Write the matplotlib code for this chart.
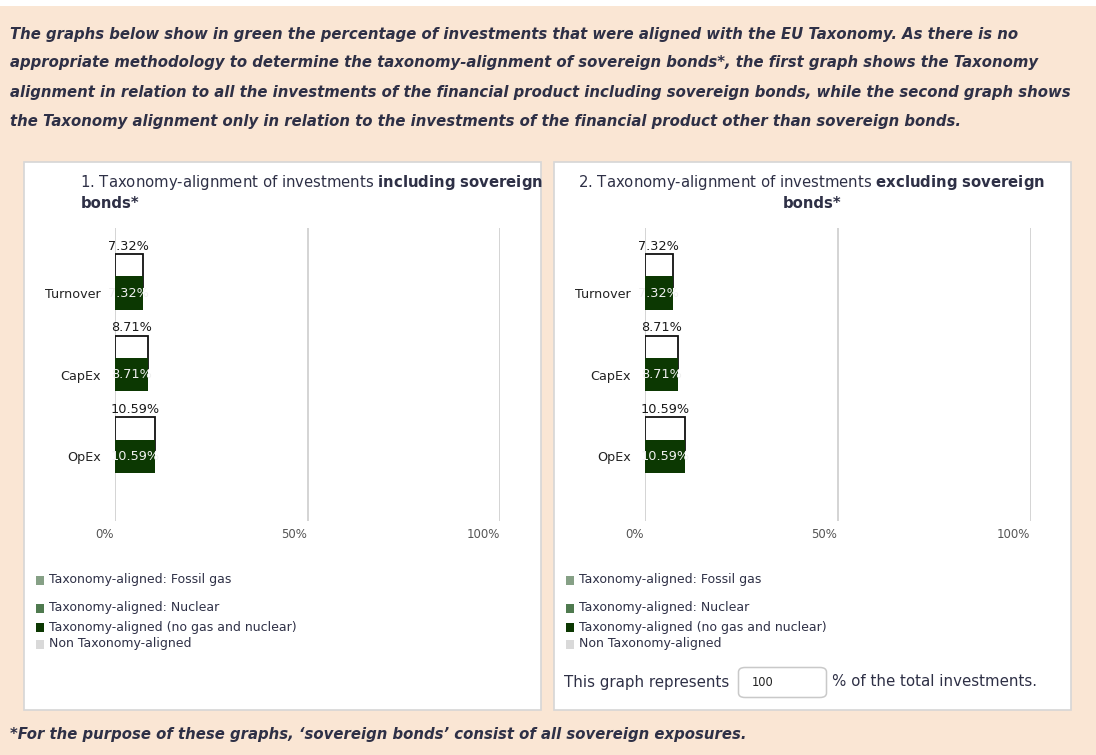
import numpy as np
import matplotlib
matplotlib.use("Agg")
import matplotlib.pyplot as plt
from matplotlib.patches import Rectangle, FancyBboxPatch
import matplotlib.transforms as mtransforms

# data
categories = ["Turnover", "CapEx", "OpEx"]
aligned_incl = [7.32, 8.71, 10.59]     # taxonomy-aligned (no gas and nuclear), incl. sovereign bonds
total_incl = [7.32, 8.71, 10.59]       # outline bar, incl. sovereign bonds
aligned_excl = [7.32, 8.71, 10.59]
total_excl = [7.32, 8.71, 10.59]
xticks = [0, 50, 100]
xtick_labels = ["0%", "50%", "100%"]
legend_labels = ["Taxonomy-aligned: Fossil gas", "Taxonomy-aligned: Nuclear",
                 "Taxonomy-aligned (no gas and nuclear)", "Non Taxonomy-aligned"]
legend_colors = ["#86a086", "#4f7a4f", "#0c3802", "#d9d9d9"]
share_of_total = "100"

header_lines = [
    "The graphs below show in green the percentage of investments that were aligned with the EU Taxonomy. As there is no",
    "appropriate methodology to determine the taxonomy-alignment of sovereign bonds*, the first graph shows the Taxonomy",
    "alignment in relation to all the investments of the financial product including sovereign bonds, while the second graph shows",
    "the Taxonomy alignment only in relation to the investments of the financial product other than sovereign bonds.",
]
footer = "*For the purpose of these graphs, \u2018sovereign bonds\u2019 consist of all sovereign exposures."

W, H = 1096, 755
BG = "#fae6d4"
TXT = "#2e3046"
GREEN = "#0c3802"

fig = plt.figure(figsize=(W / 100, H / 100), dpi=100)
fig.patch.set_facecolor(BG)


def fx(x):
    return x / W


def fy(y):
    return 1 - y / H


# white strip at the very top
fig.patches.append(Rectangle((0, fy(6)), 1, 6 / H, transform=fig.transFigure,
                             facecolor="white", edgecolor="none", zorder=-2))

for i, line in enumerate(header_lines):
    fig.text(fx(10), fy([34, 63, 92.5, 121.5][i]), line, fontsize=10.7, fontweight="bold",
             fontstyle="italic", color=TXT, va="center", ha="left")

fig.text(fx(10), fy(734), footer, fontsize=10.7, fontweight="bold", fontstyle="italic",
         color=TXT, va="center", ha="left")


def panel(x0, title1, title2, title_center, aligned, total, extra):
    # white panel box
    fig.patches.append(Rectangle((fx(x0), fy(709.5)), 517 / W, (709.5 - 161.5) / H,
                                 transform=fig.transFigure, facecolor="white",
                                 edgecolor="#d6d6d6", lw=1.2, zorder=-1))
    if title_center:
        fig.text(fx(x0 + 258.5), fy(182), title1, fontsize=10.7, color=TXT, ha="center", va="center")
        fig.text(fx(x0 + 258.5), fy(203), title2, fontsize=10.7, color=TXT, ha="center", va="center",
                 fontweight="bold")
    else:
        fig.text(fx(x0 + 57), fy(182), title1, fontsize=10.7, color=TXT, ha="left", va="center")
        fig.text(fx(x0 + 57), fy(203), title2, fontsize=10.7, color=TXT, ha="left", va="center",
                 fontweight="bold")

    ax = fig.add_axes([fx(x0 + 91), fy(521), 386 / W, 292.7 / H])
    ax.set_facecolor("none")
    y = np.arange(len(categories))
    h = 0.409
    off = 0.275
    ax.barh(y - off, total, height=h, color="white", edgecolor="#111111", lw=1.3, zorder=2)
    bars = ax.barh(y, aligned, height=h, color=GREEN, edgecolor="none", zorder=3)
    for yi, v, tv, b in zip(y, aligned, total, bars):
        ax.annotate(f"{tv:.2f}%", xy=(tv / 2, yi - off - h / 2), xytext=(0, 3),
                    textcoords="offset points", ha="center", va="baseline",
                    fontsize=9.3, color="#1a1a1a", zorder=4)
        t = ax.text(v / 2, yi, f"{v:.2f}%", ha="center", va="center", fontsize=9.3,
                    color="#f0f0f0", zorder=4)
        t.set_clip_path(b)
    ax.set_xlim(0, 100)
    ax.set_ylim(2.795, -0.795)
    ax.set_xticks(xticks)
    ax.set_xticklabels([])
    ax.grid(axis="x", color="#d4d4d4", lw=1.4, zorder=1)
    ax.set_axisbelow(True)
    ax.set_yticks(y)
    ax.set_yticklabels(categories, fontsize=9.2, color="#222222")
    ax.tick_params(length=0)
    ax.tick_params(axis="y", pad=10)
    for s in ax.spines.values():
        s.set_visible(False)
    for v, lab in zip(xticks, xtick_labels):
        tr = mtransforms.blended_transform_factory(ax.transData, ax.transAxes) + \
            mtransforms.ScaledTranslation((-9.8 - 0.076 * v) / 100, -14 / 100, fig.dpi_scale_trans)
        ax.text(v, 0, lab, transform=tr, ha="center", va="center", fontsize=8.5, color="#555555")

    # legend
    for yy, lab, c in zip([580, 608, 627, 644], legend_labels, legend_colors):
        fig.patches.append(Rectangle((fx(x0 + 12), fy(yy + 5)), 8 / W, 9 / H, transform=fig.transFigure,
                                     facecolor=c, edgecolor="none", zorder=1))
        fig.text(fx(x0 + 25.5), fy(yy), lab, fontsize=9, color=TXT, ha="left", va="center")

    if extra:
        fig.text(fx(x0 + 11), fy(682), "This graph represents", fontsize=10.8, color=TXT,
                 ha="left", va="center")
        fig.patches.append(FancyBboxPatch((fx(x0 + 185), fy(697.5)), 88 / W, 30 / H,
                                          boxstyle="round,pad=0,rounding_size=0.006",
                                          transform=fig.transFigure, facecolor="white",
                                          edgecolor="#c9c9c9", lw=1.1, zorder=1))
        fig.text(fx(x0 + 198), fy(683), share_of_total, fontsize=8.3, color="#222222",
                 ha="left", va="center")
        fig.text(fx(x0 + 279), fy(682), "% of the total investments.", fontsize=10.8, color=TXT,
                 ha="left", va="center")
    return ax


panel(23.5, r"1. Taxonomy-alignment of investments $\mathbf{including\ sovereign}$", "bonds*",
      False, aligned_incl, total_incl, False)
panel(553.5, r"2. Taxonomy-alignment of investments $\mathbf{excluding\ sovereign}$", "bonds*",
      True, aligned_excl, total_excl, True)

fig.savefig("out.png", dpi=100, facecolor=BG)
